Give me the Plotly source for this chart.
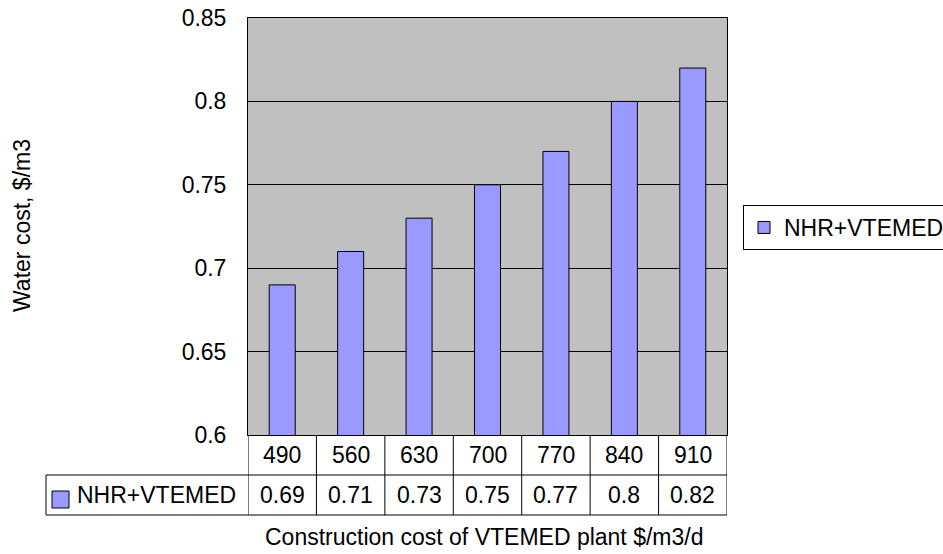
import plotly.graph_objects as go

# Data
construction_cost = ["490", "560", "630", "700", "770", "840", "910"]
water_cost = [0.69, 0.71, 0.73, 0.75, 0.77, 0.80, 0.82]
series_name = "NHR+VTEMED"
y_ticks = [0.6, 0.65, 0.7, 0.75, 0.8, 0.85]
y_tick_text = ["0.6", "0.65", "0.7", "0.75", "0.8", "0.85"]

W, H = 943, 554
L, R, T, B = 248, 216, 18, 119
plot_w = W - L - R
plot_h = H - T - B

BAR = "#9999FF"
FONT = "Liberation Sans, Arial, sans-serif"
FS = 23


def px_x(x):
    return (x - L) / plot_w


def px_y(y):
    return (H - B - y) / plot_h


def label(x, y, text, xref="paper", xanchor="center", angle=0):
    return dict(x=x, y=y, xref=xref, yref="paper", text=text, showarrow=False,
                xanchor=xanchor, yanchor="middle", textangle=angle,
                font=dict(size=FS, color="black", family=FONT))


fig = go.Figure()
fig.add_trace(go.Bar(
    x=construction_cost, y=water_cost, name=series_name,
    marker=dict(color=BAR, line=dict(color="black", width=1)),
    width=0.38, showlegend=True,
))

shapes = []
annotations = []

row1_top, row1_bot, row2_bot = H - B, 475, 515
label_left = 46
n = len(construction_cost)

# Data table: horizontal rules
for yy in (row1_bot, row2_bot):
    shapes.append(dict(type="line", xref="paper", yref="paper",
                       x0=px_x(label_left), x1=1, y0=px_y(yy), y1=px_y(yy),
                       line=dict(color="black", width=1)))
# Left edge of the series label cell
shapes.append(dict(type="line", xref="paper", yref="paper",
                   x0=px_x(label_left), x1=px_x(label_left),
                   y0=px_y(row1_bot), y1=px_y(row2_bot),
                   line=dict(color="black", width=1)))
# Column separators
for i in range(n + 1):
    shapes.append(dict(type="line", xref="x", yref="paper",
                       x0=i - 0.5, x1=i - 0.5, y0=0, y1=px_y(row2_bot),
                       line=dict(color="black", width=1)))

# Table text
for i, (c, v) in enumerate(zip(construction_cost, water_cost)):
    annotations.append(label(i, px_y((row1_top + row1_bot) / 2), c, xref="x"))
    annotations.append(label(i, px_y((row1_bot + row2_bot) / 2), f"{v:g}", xref="x"))

# Legend key inside the table
shapes.append(dict(type="rect", xref="paper", yref="paper",
                   x0=px_x(52), x1=px_x(69), y0=px_y(491), y1=px_y(508),
                   fillcolor=BAR, line=dict(color="black", width=1)))
annotations.append(label(px_x(75), px_y((row1_bot + row2_bot) / 2), series_name, xanchor="left"))

# Axis titles
annotations.append(label(px_x(22), px_y(226), "Water cost, $/m3", angle=-90))
annotations.append(label(px_x(484), px_y(537), "Construction cost of VTEMED plant $/m3/d"))

fig.update_layout(
    width=W, height=H,
    margin=dict(l=L, r=R, t=T, b=B, pad=0, autoexpand=False),
    paper_bgcolor="white", plot_bgcolor="#C0C0C0",
    font=dict(family=FONT, size=FS, color="black"),
    shapes=shapes, annotations=annotations,
    legend=dict(x=px_x(743), y=px_y(205), xanchor="left", yanchor="top",
                bordercolor="black", borderwidth=1, bgcolor="white",
                font=dict(size=FS, color="black", family=FONT),
                itemwidth=30, tracegroupgap=0),
    xaxis=dict(type="category", range=[-0.5, n - 0.5], showticklabels=False,
               ticks="", showgrid=False, showline=True, linecolor="black",
               linewidth=1, mirror=True, zeroline=False),
    yaxis=dict(range=[0.6, 0.85], tickvals=y_ticks, ticktext=y_tick_text,
               showgrid=True, gridcolor="black", gridwidth=1,
               showline=True, linecolor="black", linewidth=1, mirror=True,
               ticks="outside", ticklen=0, ticklabelstandoff=16, zeroline=False,
               tickfont=dict(size=FS, color="black", family=FONT)),
)

fig.write_html("out.html")
